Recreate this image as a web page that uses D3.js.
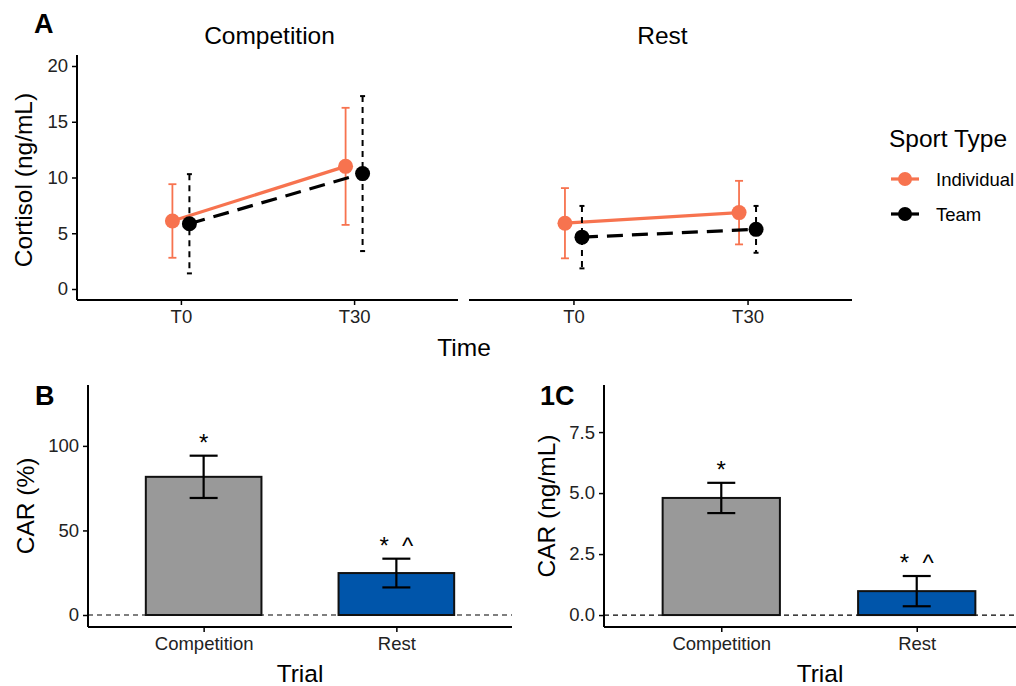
<!DOCTYPE html>
<html><head><meta charset="utf-8">
<script src="https://cdn.jsdelivr.net/npm/d3@7"></script>
<style>body{margin:0;background:#fff}svg{display:block;font-family:"Liberation Sans",Arial,sans-serif}</style>
</head><body>
<svg id="c" width="1016" height="686"></svg>
<script>
// ---- data ----
const timepoints = ["T0", "T30"];
const facets = ["Competition", "Rest"];
const sportTypes = ["Individual", "Team"];
// mean cortisol (ng/mL) [Competition T0, T30], [Rest T0, T30]
const individualMean = [[6.1, 11.0], [5.9, 6.85]];
const individualErr  = [[3.3, 5.25], [3.15, 2.85]];
const teamMean = [[5.85, 10.35], [4.65, 5.35]];
const teamErr  = [[4.45, 6.95], [2.8, 2.1]];
const yTicksA = [0, 5, 10, 15, 20];

const trials = ["Competition", "Rest"];
const carPct = [81.7, 24.8];
const carPctErr = [12.5, 8.5];
const carPctSig = ["*", "* ^"];
const yTicksB = [0, 50, 100];

const carNg = [4.8, 0.98];
const carNgErr = [0.62, 0.62];
const carNgSig = ["*", "* ^"];
const yTicksC = [0, 2.5, 5.0, 7.5];

const seriesColors = {Individual: "#F7734F", Team: "#000000"};
const barColors = ["#999999", "#0055AA"];

const FONT = "Liberation Sans, Arial, sans-serif";
const TICK = 18.5, TITLE = 24.5, TAG = 27;

function styleAxis(g, domainPath) {
  g.attr("font-family", FONT);
  g.select(".domain").attr("d", domainPath).attr("stroke-width", 2);
  g.selectAll(".tick line").attr("stroke-width", 1.5);
  g.selectAll(".tick text").attr("font-size", TICK).attr("fill", "#222");
}

// ---- panel A ----
const svg = d3.select("#c");
const yA = d3.scaleLinear().domain([0, 20]).range([289, 66]);
const facetRanges = [[77, 458], [469, 852]];
const dodge = 8.5;

svg.append("text").attr("x", 34).attr("y", 33).attr("font-size", TAG).attr("font-weight", "bold").text("A");

const gyA = svg.append("g").attr("transform", "translate(77,0)")
  .call(d3.axisLeft(yA).tickValues(yTicksA).tickSize(5).tickPadding(4));
styleAxis(gyA, "M0,55V300");

svg.append("text").attr("transform", "translate(32,180) rotate(-90)").attr("text-anchor", "middle")
  .attr("font-size", TITLE).text("Cortisol (ng/mL)");

facets.forEach((f, fi) => {
  const [r0, r1] = facetRanges[fi];
  const xs = d3.scalePoint().domain(timepoints).range([r0, r1]).padding(0.6);
  const gx = svg.append("g").attr("transform", "translate(0,300)")
    .call(d3.axisBottom(xs).tickSize(5).tickPadding(5));
  styleAxis(gx, `M${r0},0H${r1}`);

  svg.append("text").attr("x", (r0 + r1) / 2 + 2).attr("y", 44).attr("text-anchor", "middle")
    .attr("font-size", TITLE).text(f);

  const series = [
    {name: "Individual", mean: individualMean[fi], err: individualErr[fi], off: -dodge, dash: null, cap: 4},
    {name: "Team", mean: teamMean[fi], err: teamErr[fi], off: dodge, dash: "6,5", cap: 2.5}
  ];
  series.forEach(s => {
    const col = seriesColors[s.name];
    const pts = timepoints.map((t, i) => ({x: xs(t) + s.off, y: s.mean[i], e: s.err[i]}));
    pts.forEach(p => {
      const g = svg.append("g").attr("stroke", col).attr("stroke-width", s.name === "Team" ? 2 : 1.8);
      g.append("line").attr("x1", p.x).attr("x2", p.x).attr("y1", yA(p.y + p.e)).attr("y2", yA(p.y - p.e))
        .attr("stroke-dasharray", s.dash);
      g.append("line").attr("x1", p.x - s.cap).attr("x2", p.x + s.cap).attr("y1", yA(p.y + p.e)).attr("y2", yA(p.y + p.e));
      g.append("line").attr("x1", p.x - s.cap).attr("x2", p.x + s.cap).attr("y1", yA(p.y - p.e)).attr("y2", yA(p.y - p.e));
    });
    svg.append("path").datum(pts)
      .attr("d", d3.line().x(d => d.x).y(d => yA(d.y)))
      .attr("fill", "none").attr("stroke", col).attr("stroke-width", 3.2)
      .attr("stroke-dasharray", s.name === "Team" ? "16,9" : null);
    svg.selectAll(null).data(pts).enter().append("circle")
      .attr("cx", d => d.x).attr("cy", d => yA(d.y)).attr("r", 7.5).attr("fill", col);
  });
});

svg.append("text").attr("x", 464).attr("y", 356).attr("text-anchor", "middle").attr("font-size", TITLE).text("Time");

// legend
svg.append("text").attr("x", 889).attr("y", 147).attr("font-size", TITLE).text("Sport Type");
sportTypes.forEach((s, i) => {
  const cy = 179 + i * 35;
  const col = seriesColors[s];
  svg.append("line").attr("x1", 891).attr("x2", 919).attr("y1", cy).attr("y2", cy)
    .attr("stroke", col).attr("stroke-width", 3.2);
  svg.append("circle").attr("cx", 905).attr("cy", cy).attr("r", 7).attr("fill", col);
  svg.append("text").attr("x", 936).attr("y", cy + 6.5).attr("font-size", 18.5).text(s);
});

// ---- bar panels ----
function barPanel(opts) {
  const {axisX, xEnd, yDomain, ticks, values, errs, sig, label, yTitle, titleX, tickFmt, trialX} = opts;
  const y = d3.scaleLinear().domain(yDomain).range([627, 385]);
  const xAx = d3.scalePoint().domain(trials).range([axisX, xEnd]).padding(0.6);
  const bw = xAx.step() * 0.6;

  svg.append("text").attr("x", label.x).attr("y", 405).attr("font-size", TAG).attr("font-weight", "bold").text(label.t);

  svg.append("line").attr("x1", axisX).attr("x2", xEnd).attr("y1", y(0)).attr("y2", y(0))
    .attr("stroke", "#000").attr("stroke-width", 1.2).attr("stroke-dasharray", "5,4");

  trials.forEach((t, i) => {
    const cx = xAx(t);
    svg.append("rect").attr("x", cx - bw / 2).attr("y", y(values[i])).attr("width", bw)
      .attr("height", y(0) - y(values[i])).attr("fill", barColors[i]).attr("stroke", "#111").attr("stroke-width", 2);
    const g = svg.append("g").attr("stroke", "#000").attr("stroke-width", 2.2);
    g.append("line").attr("x1", cx).attr("x2", cx).attr("y1", y(values[i] + errs[i])).attr("y2", y(values[i] - errs[i]));
    g.append("line").attr("x1", cx - 14).attr("x2", cx + 14).attr("y1", y(values[i] + errs[i])).attr("y2", y(values[i] + errs[i]));
    g.append("line").attr("x1", cx - 14).attr("x2", cx + 14).attr("y1", y(values[i] - errs[i])).attr("y2", y(values[i] - errs[i]));
    svg.append("text").attr("x", cx).attr("y", y(values[i] + errs[i]) - 5).attr("text-anchor", "middle")
      .attr("font-size", 24).attr("xml:space", "preserve").text(sig[i].replace(" ", "  "));
  });

  const gy = svg.append("g").attr("transform", `translate(${axisX},0)`)
    .call(d3.axisLeft(y).tickValues(ticks).tickFormat(tickFmt).tickSize(5).tickPadding(4));
  styleAxis(gy, "M0,385V627");

  const gx = svg.append("g").attr("transform", "translate(0,627)")
    .call(d3.axisBottom(xAx).tickSize(5).tickPadding(5));
  styleAxis(gx, `M${axisX},0H${xEnd}`);

  svg.append("text").attr("x", trialX).attr("y", 682).attr("text-anchor", "middle").attr("font-size", TITLE).text("Trial");
  svg.append("text").attr("transform", `translate(${titleX},${(385 + 627) / 2}) rotate(-90)`).attr("text-anchor", "middle")
    .attr("font-size", TITLE).text(yTitle);
}

barPanel({axisX: 88, xEnd: 512, yDomain: [-7.1, 136], ticks: yTicksB, values: carPct, errs: carPctErr, sig: carPctSig,
  label: {x: 35, t: "B"}, yTitle: "CAR (%)", titleX: 34, tickFmt: d3.format("d"), trialX: 300});
barPanel({axisX: 604, xEnd: 1034, yDomain: [-0.49, 9.43], ticks: yTicksC, values: carNg, errs: carNgErr, sig: carNgSig,
  label: {x: 540, t: "1C"}, yTitle: "CAR (ng/mL)", titleX: 555, tickFmt: d3.format(".1f"), trialX: 820});
</script>
</body></html>
